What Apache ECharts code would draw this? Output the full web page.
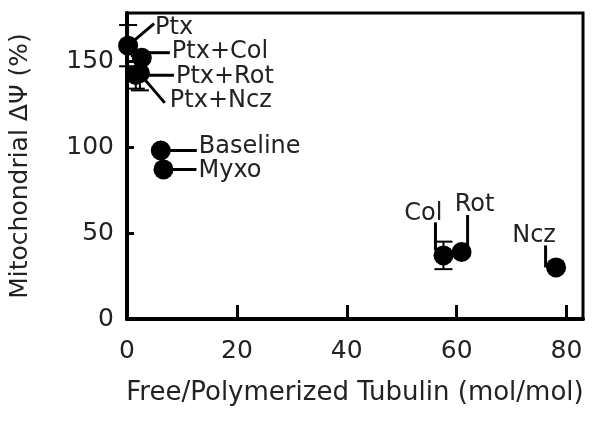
<!DOCTYPE html>
<html>
<head>
<meta charset="utf-8">
<script src="https://cdn.jsdelivr.net/npm/echarts@6/dist/echarts.min.js"></script>
<style>
  html, body { margin: 0; padding: 0; background: #fff; }
  #chart { width: 601px; height: 431px; }
</style>
</head>
<body>
<div id="chart"></div>
<script>
// data
const names = ['Ptx', 'Ptx+Col', 'Ptx+Rot', 'Ptx+Ncz', 'Baseline', 'Myxo', 'Col', 'Rot', 'Ncz']
const ratio = [0.2, 2.7, 2.35, 1.6, 6.15, 6.64, 57.6, 60.9, 78.1]
const potential = [159, 152, 143, 142, 98, 87, 37, 39, 30]
const errors = [12, 0, 10, 8, 0, 0, 8, 0, 0]
const xTicks = [0, 20, 40, 60, 80]
const yTicks = [0, 50, 100, 150]

// label leader layout, pixel offsets from each marker: line start, line end, text pos, align
const leader = [
  { line: [0, 0, 26, -22], text: [27, -18], align: 'left' },
  { line: [0, -5, 28, -5], text: [30, -6], align: 'left' },
  { line: [0, 2, 34, 2], text: [36, 4], align: 'left' },
  { line: [5, 0, 29, 28], text: [34, 26], align: 'left' },
  { line: [0, 0, 36, 0], text: [38, -4], align: 'left' },
  { line: [0, 0, 33, 0], text: [35, 1.5], align: 'left' },
  { line: [-8, -5, -8, -33], text: [-1, -42], align: 'right' },
  { line: [6, 6, 6, -37], text: [13, -47], align: 'center' },
  { line: [-10.5, 0, -10.5, -22], text: [-22, -32], align: 'center' },
]

const font = 'DejaVu Sans, Liberation Sans, sans-serif'
const points = names.map((n, i) => [ratio[i], potential[i], errors[i], n])

const chart = echarts.init(document.getElementById('chart'))

const option = {
  backgroundColor: '#fff',
  animation: false,
  grid: {
    left: 125,
    right: 18,
    top: 13,
    bottom: 112,
    show: true,
    borderColor: '#000',
    borderWidth: 3,
  },
  xAxis: {
    type: 'value',
    min: 0,
    max: 83,
    name: 'Free/Polymerized Tubulin (mol/mol)',
    nameLocation: 'middle',
    nameGap: 61,
    nameTextStyle: { color: '#222', fontSize: 26, fontFamily: font },
    axisLine: { show: true, onZero: false, lineStyle: { color: '#000', width: 4 } },
    axisTick: { show: true, inside: true, length: 14, customValues: xTicks, lineStyle: { color: '#000', width: 3 } },
    axisLabel: { customValues: xTicks, color: '#222', fontSize: 25, fontFamily: font, margin: 20 },
    splitLine: { show: false },
  },
  yAxis: {
    type: 'value',
    min: 0,
    max: 178,
    name: 'Mitochondrial ΔΨ (%)',
    nameLocation: 'middle',
    nameGap: 94,
    nameTextStyle: { color: '#222', fontSize: 25, fontFamily: font },
    axisLine: { show: true, onZero: false, lineStyle: { color: '#000', width: 4 } },
    axisTick: { show: true, inside: true, length: 7, customValues: yTicks, lineStyle: { color: '#000', width: 3 } },
    axisLabel: { customValues: yTicks, color: '#222', fontSize: 25, fontFamily: font, margin: 13 },
    splitLine: { show: false },
  },
  series: [
    {
      // leader lines + labels
      type: 'custom',
      z: 1,
      data: points,
      renderItem: (params, api) => {
        const p = api.coord([api.value(0), api.value(1)])
        const l = leader[params.dataIndex]
        return {
          type: 'group',
          children: [
            {
              type: 'line',
              shape: { x1: p[0] + l.line[0], y1: p[1] + l.line[1], x2: p[0] + l.line[2], y2: p[1] + l.line[3] },
              style: { stroke: '#000', lineWidth: 3 },
            },
            {
              type: 'text',
              style: {
                text: names[params.dataIndex],
                x: p[0] + l.text[0],
                y: p[1] + l.text[1],
                align: l.align,
                verticalAlign: 'middle',
                fill: '#222',
                fontSize: 24,
                fontFamily: font,
              },
            },
          ],
        }
      },
    },
    {
      // error bars
      type: 'custom',
      z: 2,
      data: points.filter((d) => d[2] > 0),
      renderItem: (params, api) => {
        const x = api.value(0)
        const y = api.value(1)
        const e = api.value(2)
        const top = api.coord([x, y + e])
        const bot = api.coord([x, y - e])
        const w = 9
        const st = { stroke: '#000', lineWidth: 2 }
        return {
          type: 'group',
          children: [
            { type: 'line', shape: { x1: top[0], y1: top[1], x2: bot[0], y2: bot[1] }, style: st },
            { type: 'line', shape: { x1: top[0] - w, y1: top[1], x2: top[0] + w, y2: top[1] }, style: st },
            { type: 'line', shape: { x1: bot[0] - w, y1: bot[1], x2: bot[0] + w, y2: bot[1] }, style: st },
          ],
        }
      },
    },
    {
      type: 'scatter',
      z: 3,
      symbol: 'circle',
      symbolSize: 20,
      itemStyle: { color: '#000', opacity: 1 },
      data: points,
    },
  ],
}

chart.setOption(option)
</script>
</body>
</html>
